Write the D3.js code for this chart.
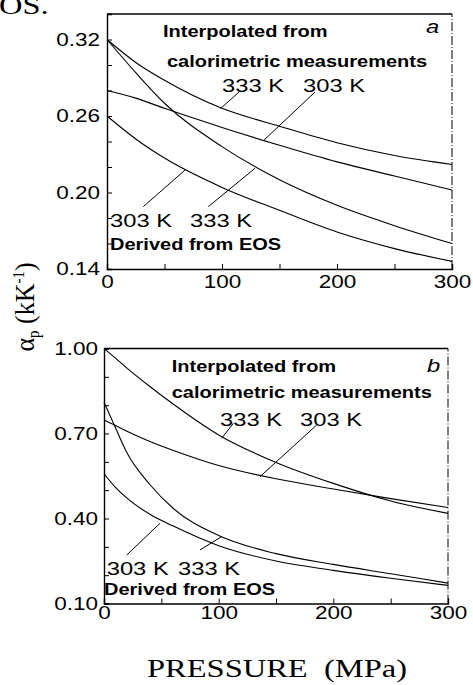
<!DOCTYPE html>
<html><head><meta charset="utf-8">
<script src="https://cdn.jsdelivr.net/npm/d3@7"></script>
<style>body{margin:0;background:#fff}svg{display:block}</style>
</head><body>
<svg id="chart" width="473" height="685"></svg>
<script>
// ---------- data ----------
const pTop = [0, 25, 50, 100, 150, 200, 250, 300];
const topInterp333 = [0.320, 0.302, 0.288, 0.266, 0.252, 0.239, 0.229, 0.222];
const topInterp303 = [0.280, 0.274, 0.266, 0.251, 0.237, 0.224, 0.213, 0.202];
const topEOS333   = [0.320, 0.294, 0.270, 0.236, 0.210, 0.190, 0.174, 0.160];
const topEOS303   = [0.260, 0.242, 0.227, 0.204, 0.186, 0.169, 0.156, 0.146];

const pBot = [0, 10, 20, 40, 60, 100, 150, 200, 250, 300];
const botInterp333 = [1.000, 0.966, 0.931, 0.866, 0.805, 0.695, 0.598, 0.524, 0.462, 0.418];
const botInterp303 = [0.748, 0.728, 0.708, 0.672, 0.641, 0.587, 0.540, 0.504, 0.470, 0.439];
const botEOS333    = [0.810, 0.720, 0.632, 0.520, 0.437, 0.340, 0.276, 0.238, 0.205, 0.172];
const botEOS303    = [0.558, 0.510, 0.472, 0.415, 0.374, 0.304, 0.250, 0.217, 0.189, 0.164];

const xTicks = [0, 50, 100, 150, 200, 250, 300];
const xTickLabels = ["0", "", "100", "", "200", "", "300"];
const yTicksTop = [0.14,0.16,0.18,0.20,0.22,0.24,0.26,0.28,0.30,0.32,0.34];
const yLabelsTop = ["0.14","","","0.20","","","0.26","","","0.32",""];
const yTicksBot = [0.1,0.2,0.3,0.4,0.5,0.6,0.7,0.8,0.9,1.0];
const yLabelsBot = ["0.10","","","0.40","","","0.70","","","1.00"];

// ---------- layout ----------
const SX = 1.25; // horizontal glyph stretch of the original scan
const svg = d3.select("#chart");
svg.append("rect").attr("width",473).attr("height",685).attr("fill","#fff");

function stretch(sel){
  sel.each(function(){
    const t = d3.select(this);
    const x = +(t.attr("x")||0), y = +(t.attr("y")||0);
    t.attr("x",0).attr("y",0).attr("transform",`translate(${x},${y}) scale(${SX},1)`);
  });
}
function addText(g, x, y, txt, opts={}){
  const t = g.append("text").attr("x",x).attr("y",y).text(txt)
    .attr("font-family", opts.family || "'Liberation Sans', Arial, sans-serif")
    .attr("font-size", opts.size || 19)
    .attr("font-weight", opts.weight || "normal")
    .attr("font-style", opts.style || "normal")
    .attr("fill","#000");
  stretch(t);
  return t;
}

function panel(cfg){
  const x = d3.scaleLinear().domain([0,300]).range(cfg.xr);
  const y = d3.scaleLinear().domain(cfg.yd).range(cfg.yr);
  const g = svg.append("g");

  // frame
  g.append("line").attr("x1",x(0)).attr("x2",x(300)).attr("y1",y(cfg.yd[1])).attr("y2",y(cfg.yd[1]))
    .attr("stroke","#000").attr("stroke-width",1.3);
  g.append("line").attr("x1",x(300)).attr("x2",x(300)).attr("y1",y(cfg.yd[0])).attr("y2",y(cfg.yd[1]))
    .attr("stroke","#000").attr("stroke-width",1).attr("stroke-dasharray","9,2,1,2");

  // axes
  const ax = g.append("g").attr("transform",`translate(0,${y(cfg.yd[0])})`)
    .call(d3.axisBottom(x).tickValues(xTicks).tickSize(-5).tickPadding(cfg.xpad)
      .tickFormat((d,i)=>xTickLabels[i]));
  const ay = g.append("g").attr("transform",`translate(${x(0)},0)`)
    .call(d3.axisLeft(y).tickValues(cfg.yt).tickSize(-5).tickPadding(cfg.ypad)
      .tickFormat((d,i)=>cfg.yl[i]));
  [ax, ay].forEach(a=>{
    a.select(".domain").attr("stroke","#000").attr("stroke-width",1.4);
    a.selectAll(".tick line").attr("stroke","#000").attr("stroke-width",1);
    a.selectAll("text").attr("font-family","'Liberation Sans', Arial, sans-serif")
      .attr("font-size",18).attr("fill","#000");
    stretch(a.selectAll("text"));
  });

  // curves
  const line = d3.line().x(d=>x(d[0])).y(d=>y(d[1])).curve(d3.curveMonotoneX);
  cfg.series.forEach(s=>{
    g.append("path").datum(s.p.map((p,i)=>[p,s.v[i]]))
      .attr("d",line).attr("fill","none").attr("stroke","#000").attr("stroke-width",1.1);
  });

  // pointer lines
  cfg.pointers.forEach(p=>{
    g.append("line").attr("x1",x(p[0])).attr("y1",y(p[1])).attr("x2",x(p[2])).attr("y2",y(p[3]))
      .attr("stroke","#000").attr("stroke-width",1);
  });

  // annotations
  cfg.texts.forEach(t=>addText(g, t[0], t[1], t[2], t[3]));
}

const bold = {weight:"bold", size:16};
const ital = {style:"italic", size:19};

panel({
  xr:[107,452], yd:[0.14,0.34], yr:[269,14], xpad:6, ypad:7,
  yt:yTicksTop, yl:yLabelsTop,
  series:[{p:pTop,v:topInterp333},{p:pTop,v:topInterp303},{p:pTop,v:topEOS333},{p:pTop,v:topEOS303}],
  pointers:[[114.8,0.2788,98.9,0.266],[180.9,0.2788,135.7,0.2404],
            [31.6,0.1889,67.8,0.2176],[88.1,0.1889,128.7,0.219]],
  texts:[[163,37,"Interpolated from",bold],[167,66.5,"calorimetric measurements",bold],
         [222,91.5,"333 K",{}],[303,91.5,"303 K",{}],[426,33,"a",ital],
         [110,226.5,"303 K",{}],[190,226.5,"333 K",{}],[110,250,"Derived from EOS",bold]]
});

panel({
  xr:[104,448], yd:[0.10,1.00], yr:[603.5,348.5], xpad:3, ypad:6,
  yt:yTicksBot, yl:yLabelsBot,
  series:[{p:pBot,v:botInterp333},{p:pBot,v:botInterp303},{p:pBot,v:botEOS333},{p:pBot,v:botEOS303}],
  pointers:[[112.8,0.736,102.6,0.683],[185.5,0.730,136,0.5475],
            [19.8,0.271,48.8,0.383],[83.7,0.289,102.6,0.336]],
  texts:[[171.7,371.5,"Interpolated from",bold],[171.7,398,"calorimetric measurements",bold],
         [220,425.5,"333 K",{}],[300,425.5,"303 K",{}],[427,372,"b",ital],
         [106.7,575,"303 K",{}],[178,575,"333 K",{}],[104,595,"Derived from EOS",bold]]
});

// axis titles
const serif = "'Liberation Serif', 'Times New Roman', serif";
addText(svg, 147, 677, "PRESSURE\u00a0\u00a0(MPa)", {family:serif, size:26});
addText(svg, -1, 14, "OS.", {family:serif, size:26});

const yl = svg.append("text")
  .attr("transform",`translate(34,307) scale(1.05,1) rotate(-90)`)
  .attr("text-anchor","middle")
  .attr("font-family",serif).attr("font-size",26).attr("fill","#000");
yl.append("tspan").text("α");
yl.append("tspan").attr("font-size",15).attr("dy",5).text("p");
yl.append("tspan").attr("dy",-5).text("\u00a0(kK");
yl.append("tspan").attr("font-size",15).attr("dy",-10).text("-1");
yl.append("tspan").attr("dy",10).text(")");
</script>
</body></html>
